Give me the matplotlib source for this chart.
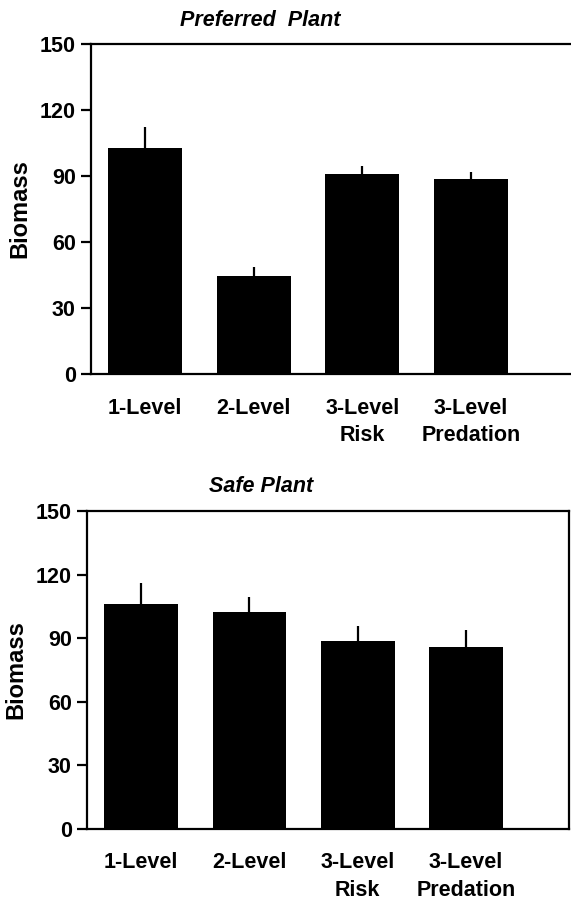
import numpy as np
import matplotlib
matplotlib.use("Agg")
import matplotlib.pyplot as plt

plt.rcParams['font.family'] = ['Liberation Sans', 'DejaVu Sans']
plt.rcParams['font.weight'] = 'bold'

# data
groups = ['1-Level', '2-Level', '3-Level\nRisk', '3-Level\nPredation']
preferred_mean = [102.4, 44.5, 90.6, 88.7]
preferred_se = [9.7, 3.9, 4.0, 3.0]
safe_mean = [106.3, 102.6, 88.7, 85.9]
safe_se = [9.7, 6.9, 6.9, 7.9]
yticks = [0, 30, 60, 90, 120, 150]

fig = plt.figure(figsize=(5.71, 8.99), dpi=100)

# top panel runs off the right edge of the scan
ax1 = fig.add_axes([0.1594, 0.584, 0.846, 0.3676])
ax2 = fig.add_axes([0.1524, 0.0782, 0.844, 0.3531])


def draw(ax, mean, se):
    x = np.arange(len(groups))
    ax.bar(x, mean, width=0.68, color='black', zorder=2)
    ax.errorbar(x, mean, yerr=[np.zeros(len(se)), se], fmt='none',
                ecolor='black', elinewidth=1.6, capsize=0, zorder=1)
    ax.set_xlim(-0.5, 3.95)
    ax.set_ylim(0, 150)
    ax.set_yticks(yticks)
    ax.set_xticks(x)
    ax.set_xticklabels(groups, fontsize=15.5, fontweight='bold', linespacing=1.4)
    ax.tick_params(axis='x', length=0, pad=17)
    ax.tick_params(axis='y', length=7, width=1.6, labelsize=15.5, pad=4)
    for lab in ax.get_yticklabels():
        lab.set_fontweight('bold')
    for s in ax.spines.values():
        s.set_linewidth(1.6)
    ax.set_ylabel('Biomass', fontsize=17, fontweight='bold', labelpad=6)


draw(ax1, preferred_mean, preferred_se)
draw(ax2, safe_mean, safe_se)
ax1.spines['right'].set_visible(False)

fig.text(0.455, 1 - 20 / 899, 'Preferred  Plant', fontsize=15.5, fontweight='bold',
         style='italic', ha='center', va='center')
fig.text(0.457, 1 - 487 / 899, 'Safe Plant', fontsize=15.5, fontweight='bold',
         style='italic', ha='center', va='center')

fig.savefig('out.png', dpi=100)
